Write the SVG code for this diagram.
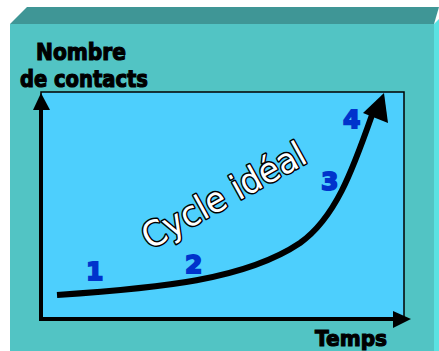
<svg xmlns="http://www.w3.org/2000/svg" width="439" height="351" viewBox="0 0 439 351">
<style>
.lbl{font-family:"DejaVu Sans","Liberation Sans",sans-serif;font-weight:bold;fill:#000;stroke:#000;stroke-width:1.2}
.num{font-family:"DejaVu Sans","Liberation Sans",sans-serif;font-weight:bold;fill:#0033cc;font-size:25px;stroke:#0033cc;stroke-width:1.8}
</style>
<rect width="439" height="351" fill="#fff"/>
<g id="box">
<polygon points="10,24 27,7 439,7 434,24" fill="#3f9696"/>
<polygon points="434,24 439,19 439,351 434,351" fill="#5ae2e2"/>
<rect x="10" y="24" width="424" height="327" fill="#52c4c4"/>
</g>
<g id="plot">
<rect x="41" y="92" width="363" height="227" fill="#4dcffd" stroke="#000" stroke-width="1.5"/>
</g>
<g id="axes">
<line x1="41" y1="320" x2="41" y2="105" stroke="#000" stroke-width="4"/>
<polygon points="41,93 33,110 50,110" fill="#000"/>
<line x1="39" y1="319" x2="396" y2="319" stroke="#000" stroke-width="4"/>
<polygon points="411,319 393,311 393,328" fill="#000"/>
</g>
<g id="curve">
<path d="M57,295 C160,288 245,280 300,243 C335,218 352,172 372,115" fill="none" stroke="#000" stroke-width="6"/>
<polygon points="384,93 363,113 388,123" fill="#000"/>
</g>
<g id="labels">
<text class="lbl" x="36" y="60" font-size="23" textLength="90" lengthAdjust="spacingAndGlyphs">Nombre</text>
<text class="lbl" x="20" y="87" font-size="23" textLength="128" lengthAdjust="spacingAndGlyphs">de contacts</text>
<text class="lbl" x="315" y="346" font-size="22" textLength="72" lengthAdjust="spacingAndGlyphs">Temps</text>
<text class="num" x="86" y="280">1</text>
<text class="num" x="185" y="273">2</text>
<text class="num" x="321" y="190">3</text>
<text class="num" x="343" y="128">4</text>
<text x="150" y="250" transform="rotate(-29 150 250)" font-family="'DejaVu Sans','Liberation Sans',sans-serif" font-size="35" fill="#fff" stroke="#000" stroke-width="3" paint-order="stroke" stroke-linejoin="round" textLength="182" lengthAdjust="spacingAndGlyphs">Cycle idéal</text>
</g>
</svg>
